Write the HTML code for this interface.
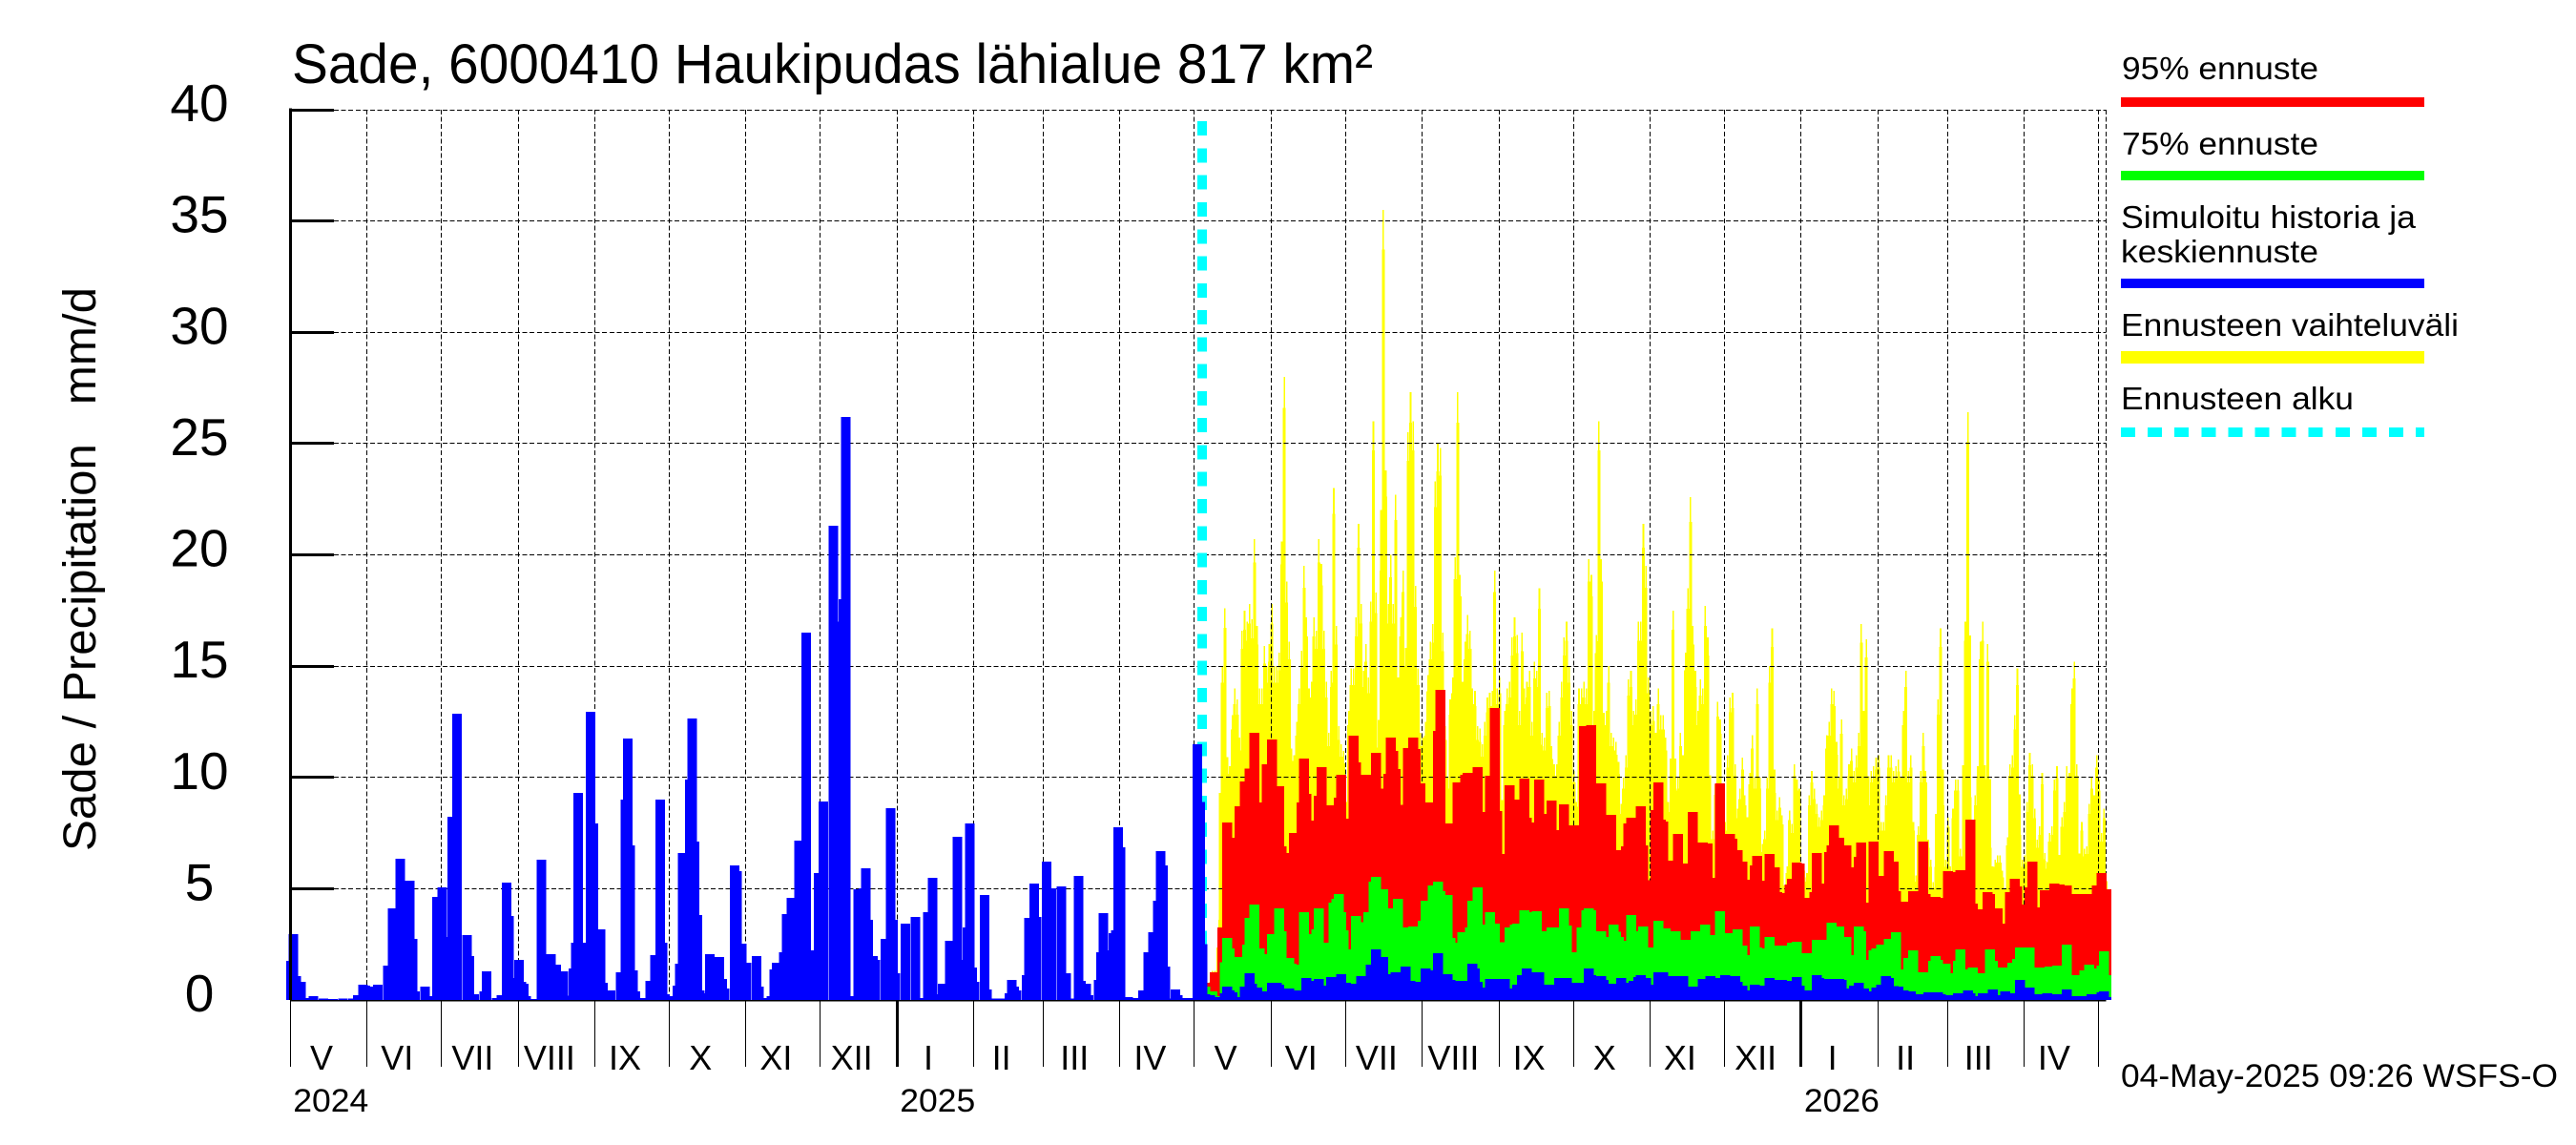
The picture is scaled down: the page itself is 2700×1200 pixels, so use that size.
<!DOCTYPE html>
<html lang="fi">
<head>
<meta charset="utf-8">
<title>Sade, 6000410 Haukipudas lähialue 817 km²</title>
<style>
html,body{margin:0;padding:0;background:#fff;}
svg{display:block;font-family:"Liberation Sans",sans-serif;}
text{fill:#000;white-space:pre;}
</style>
</head>
<body>
<svg id="chart" xmlns="http://www.w3.org/2000/svg" width="2700" height="1200" viewBox="0 0 2700 1200">
  <rect x="0" y="0" width="2700" height="1200" fill="#fff"/>
  <g id="yellow-layer" shape-rendering="crispEdges"></g>
  <g id="grid-layer" shape-rendering="crispEdges"></g>
  <g id="start-layer" shape-rendering="crispEdges"></g>
  <g id="red-layer" shape-rendering="crispEdges"></g>
  <g id="green-layer" shape-rendering="crispEdges"></g>
  <g id="blue-layer" shape-rendering="crispEdges"></g>
  <g id="axis-layer" shape-rendering="crispEdges"></g>
  <g id="label-layer"></g>

  <text x="306" y="87" font-size="58" textLength="1133" lengthAdjust="spacingAndGlyphs">Sade, 6000410 Haukipudas lähialue 817 km²</text>
  <text transform="translate(100,892) rotate(-90)" x="0" y="0" font-size="48" textLength="591" lengthAdjust="spacingAndGlyphs">Sade / Precipitation   mm/d</text>

  <g>
    <text x="2224" y="83" font-size="33" textLength="206" lengthAdjust="spacingAndGlyphs">95% ennuste</text>
    <rect x="2223" y="102" width="318" height="10" fill="#ff0000"/>
    <text x="2224" y="162" font-size="33" textLength="206" lengthAdjust="spacingAndGlyphs">75% ennuste</text>
    <rect x="2223" y="179" width="318" height="10" fill="#00ff00"/>
    <text x="2223" y="239" font-size="33" textLength="309" lengthAdjust="spacingAndGlyphs">Simuloitu historia ja</text>
    <text x="2223" y="275" font-size="33" textLength="207" lengthAdjust="spacingAndGlyphs">keskiennuste</text>
    <rect x="2223" y="292" width="318" height="10" fill="#0000ff"/>
    <text x="2223" y="352" font-size="33" textLength="354" lengthAdjust="spacingAndGlyphs">Ennusteen vaihteluväli</text>
    <rect x="2223" y="368" width="318" height="13" fill="#ffff00"/>
    <text x="2223" y="429" font-size="33" textLength="244" lengthAdjust="spacingAndGlyphs">Ennusteen alku</text>
    <line x1="2223" y1="453" x2="2541" y2="453" stroke="#00ffff" stroke-width="10" stroke-dasharray="15 13.1" shape-rendering="crispEdges"/>
  </g>

  <text x="2223" y="1139" font-size="34" textLength="458" lengthAdjust="spacingAndGlyphs">04-May-2025 09:26 WSFS-O</text>
</svg>

<script>
// Y axis
const yTicks = [5, 10, 15, 20, 25, 30, 35, 40];
const yTickLabels = [0, 5, 10, 15, 20, 25, 30, 35, 40];

// X axis: days since 1 May 2024
const monthStarts = [0,31,61,92,123,153,184,214,245,276,304,335,365,396,426,457,488,518,549,579,610,641,669,700,730];
const monthLabels = ["V","VI","VII","VIII","IX","X","XI","XII","I","II","III","IV","V","VI","VII","VIII","IX","X","XI","XII","I","II","III","IV"];
const yearStarts = [245, 610];
const yearLabels = ["2024", "2025", "2026"];
const yearLabelDays = [0, 245, 610];
const forecastStartDay = 368;

// Simulated history (mm/d)
const historyDays = [0,1,2,4,6,9,13,17,21,25,27,29,30,33,34,35,39,41,44,46,48,49,50,54,55,59,61,63,65,67,71,72,74,78,79,83,85,87,88,89,92,93,94,95,98,101,103,105,107,110,112,114,115,116,117,121,122,125,126,129,133,135,136,137,138,139,142,145,147,149,150,151,153,156,157,158,161,162,163,164,165,166,169,173,174,175,179,180,182,184,188,189,191,194,195,196,199,200,202,205,208,210,213,215,219,222,223,224,227,229,231,232,233,235,236,240,242,243,244,248,252,254,257,259,260,263,266,269,271,273,274,275,276,280,281,284,287,290,291,292,293,297,298,300,301,305,307,311,313,315,318,319,321,322,326,327,328,330,332,333,334,335,338,341,344,346,348,350,351,352,353,355,357,358,361,363,366,367,368];
const historyValues = [1.76,2.96,1.07,.81,.09,.17,.06,.05,.06,.07,.21,.69,.64,.6,.51,.69,1.54,4.11,6.34,1.97,5.36,2.74,.39,.6,.17,4.63,5.06,2.83,8.23,12.86,2.91,1.97,.26,.39,1.29,.09,.21,5.27,3.77,.99,1.8,.81,.73,.17,.05,6.3,.86,2.06,1.59,1.29,.2,1.41,2.57,9.3,2.57,12.94,7.93,3.17,.77,.43,1.24,9,11.74,6.94,1.33,.39,.09,.86,2.01,9,2.57,.26,.17,.64,1.63,6.6,9.9,12.64,7.11,3.81,.43,.3,2.06,1.93,.94,.51,6.04,5.79,2.53,1.67,1.97,.6,.09,.17,1.37,1.67,2.14,3.86,4.59,7.16,16.5,2.23,5.7,8.91,21.3,17,18,26.2,.17,4.97,5.01,5.91,3.6,1.97,1.8,2.74,8.61,3.6,1.2,3.43,3.73,.09,3.94,5.49,.26,.73,2.66,7.33,1.8,3.26,7.93,1.46,.81,4.71,.47,.06,.06,.3,.9,.6,.43,1.11,3.69,5.23,3.73,6.21,5.01,5.1,1.2,.06,5.57,.86,.73,.21,.9,2.14,3.9,2.23,3,3.13,7.76,6.86,.13,.09,.43,2.14,3.04,4.46,6.69,6.04,1.5,.06,.47,.21,.09,.08,11.49,8.9,2.5];

// Median forecast (mm/d)
const medianDays = [369,371,373,374,377,378,379,380,381,385,387,388,390,392,396,398,399,403,406,410,411,415,416,420,421,424,426,429,432,433,436,438,441,442,443,446,447,450,452,453,455,458,459,463,467,468,473,477,478,479,480,484,486,490,491,495,497,499,504,505,508,512,515,519,524,525,529,530,533,537,538,542,544,545,547,549,552,554,558,562,566,570,573,575,579,583,584,586,587,591,593,597,602,604,608,609,611,612,616,617,618,621,625,626,627,631,633,635,636,640,642,644,645,647,649,651,654,657,661,665,666,669,673,677,678,682,683,687,688,692,693,694,698,702,705,709,713,717,723,727,731,732,733,470,501,521,600,720];
const medianValues = [.26,.21,.13,.09,.3,.6,.43,.34,.13,.6,1.2,.73,.56,.39,.77,.77,.69,.51,.43,.99,.86,.94,.64,1.03,.86,1.16,.77,.73,1.07,1.07,1.59,2.27,1.93,1.16,1.07,1.24,1.24,1.5,.86,.64,.81,1.41,1.33,2.1,1.16,.9,.86,1.63,1.41,.81,.56,.94,.94,.94,.51,.69,1.11,1.41,1.24,.51,.69,.99,.99,.77,1.41,1.11,1.07,.9,.73,.99,.77,.86,1.03,1.11,.99,.69,1.24,1.24,1.07,1.07,.6,.94,1.07,.99,1.11,1.07,.81,.64,.43,.69,.64,.99,.9,.86,1.03,.64,.39,.43,1.11,.99,.9,.94,.94,.9,.51,.64,.77,.51,.39,.56,.69,1.07,.99,.63,.6,.43,.39,.26,.34,.34,.26,.21,.3,.43,.3,.17,.3,.47,.21,.39,.21,.3,.9,.56,.26,.3,.26,.47,.17,.26,.34,.39,.13,.86,1.24,.77,.9,.17];

// 75% forecast (mm/d)
const p75Days = [369,372,374,377,378,379,382,386,387,389,391,392,396,399,400,403,404,405,409,410,414,415,416,417,421,422,423,424,425,427,430,431,435,437,438,441,443,447,449,451,453,457,458,461,463,464,467,468,469,473,476,477,479,480,484,486,488,492,494,495,498,499,503,504,505,509,512,514,515,517,521,523,524,525,529,530,534,535,536,538,541,542,546,548,552,555,559,563,567,571,573,577,579,580,584,586,587,591,592,593,597,602,606,608,612,613,616,618,622,625,628,629,633,634,635,639,640,642,645,648,649,653,655,657,659,663,664,665,668,669,673,674,675,679,682,686,687,691,695,697,698,700,702,703,705,708,710,713,717,719,720,724,726,727,731,732,733,600];
const p75Values = [.6,.39,.17,1.7,2.79,2.31,1.93,2.49,3.69,4.29,2.31,2.06,2.96,4.11,3.09,1.89,1.63,1.59,3.94,2.96,3.17,4.11,2.53,2.57,4.37,4.54,4.76,3.94,3.13,2.27,3.77,3.49,3.94,5.31,5.53,4.97,4.11,4.54,3.1,3.26,3.3,3.56,4.46,5.14,5.31,4.89,4.71,2.79,2.57,3.04,3.26,4.46,5.06,3.39,3.94,3.43,2.59,3.26,3.39,3.43,4.03,3.94,3.99,2.83,3.09,3.26,3.26,4.11,3.34,2.14,3.26,4.03,4.11,4.03,3.09,2.83,3.39,3.06,2.83,2.66,3.81,3.09,3.3,2.36,3.56,3.21,3.09,2.7,3.09,3.39,2.91,3.99,2.83,3,3.17,2.44,2.01,3.3,2.36,2.31,2.83,2.44,2.57,2.61,2.1,1.2,2.7,2.7,3.47,3.3,2.83,2.01,3.3,3.09,1.8,2.23,2.31,2.49,2.74,3.04,1.37,1.89,2.23,1.2,1.24,1.76,1.97,1.8,1.63,1.2,1.76,2.27,1.37,1.46,1.2,2.27,1.76,1.46,1.67,1.84,2.36,2.36,2.36,1.11,1.46,1.46,1.5,1.54,2.49,.99,1.11,1.33,1.59,1.41,1.54,2.19,1.11,2.44];

// 95% forecast (mm/d)
const p95Days = [372,373,376,378,379,383,385,387,389,390,394,396,399,400,401,405,408,409,410,411,415,416,419,423,424,425,429,430,434,438,439,443,444,445,446,449,451,453,454,456,459,463,464,465,467,471,474,475,479,480,484,486,487,488,492,494,498,499,500,504,505,509,510,513,514,518,519,522,525,529,533,534,537,539,540,541,545,546,547,551,552,553,554,555,556,560,562,566,570,572,573,577,581,582,584,586,587,591,592,593,597,599,600,601,605,606,608,609,611,615,616,617,621,622,623,625,628,629,633,634,635,639,641,645,647,648,651,655,659,660,664,665,669,670,674,675,678,679,681,685,686,689,690,694,696,697,698,702,703,704,708,712,714,717,721,725,729,731,733];
const p95Values = [.77,1.24,3.26,7.97,7.29,8.7,9.81,10.4,12,8.87,10.6,11.7,9.6,6.9,6.6,7.5,8.87,10.84,9.26,8.06,9.17,10.46,8.74,9.09,10.11,8.14,11.87,10.67,10.11,11.1,9.5,10.16,11.79,11.19,10.37,8.77,11.31,11.79,11.27,9.73,8.87,12.09,13.93,7.8,7.93,9.77,10.11,10.2,10.46,8.44,10.07,13.11,8.49,6.56,9.64,9,9.94,8.19,7.97,9.9,8.36,8.96,6.2,7.63,8.79,7.84,6.17,12.3,12.34,9.73,8.31,6.3,6.73,6.9,7.93,8.19,8.7,6.94,5.37,8.53,9.77,8.1,8.01,6.13,6.26,7.46,6.13,8.44,7.07,7.03,5.49,9.73,7.46,7.24,6.73,6.21,5.4,6.04,6.47,5.36,6.56,5.96,4.84,4.8,5.19,5.44,6.17,6.13,4.59,4.84,6.6,5.23,6.64,6.94,7.84,7.29,6.94,5.96,6.43,7.07,4.37,7.11,5.57,6.69,6.21,4.89,4.41,4.89,7.11,4.76,4.63,4.59,5.79,5.74,5.83,5.61,8.1,4.33,4.07,4.84,4.76,4.11,3.43,4.84,5.44,5.1,4.29,5.06,6.21,4.16,4.93,5.23,5.19,5.14,4.76,4.76,5.14,5.7,4.97];

// Forecast range maximum, one value per day from rangeStartDay (mm/d)
const rangeStartDay = 372;
const rangeValues = [
1.3,1.3,1.4,3.8,15,17.6,10.7,10.5,12.8,14,13.5,11.8,16.6,17.5,17,17.8,17.1,20.7,16.8,14,14,15.9,15,16,17.8,15,15,15.6,
20.6,28,18.8,16.1,11.3,11,12.5,14,15.7,19.5,17.2,14,14.3,17.2,16.6,20.7,19.6,16.6,14.3,12,14.8,23,16.8,12.3,11.5,11.2,8.9,13,14.9,14.9,
17.2,21.4,17.8,14.8,16,14.5,17.9,26,18.3,11.5,20.3,35.5,23.8,17.8,20,17.8,22.7,14.5,17.2,19.3,15.8,25.5,27.3,26,18.6,14.9,12,11.8,12.5,14.6,
16.1,16.9,23.3,25,24.8,16.5,12.3,10,13.5,14.5,19.9,27.3,19.1,14.3,16.1,17.3,16.6,14,13.9,12.3,12.2,11.5,12.5,13.6,13.8,13.9,19.3,14,14.5,6.5,
13,14,14.3,16.3,17.2,16.4,13,16.5,14,14.3,14.8,12.5,15.2,14.8,18.5,12,11.8,13.8,13.9,11.4,10.6,10.6,12.5,14.3,16.3,17,15,13,10.3,8.9,
14,14,14.3,14,19.8,19.1,13,16.4,26,19.8,12.9,13,15,12,11.8,11.6,10.7,8.8,10,11,14.4,14.8,13,13.5,17,17,21.4,19.5,14.5,13,
13.2,12,14,12.8,12.8,11.8,8.9,8,17.5,9.9,10,12,11,15.6,18.5,22.6,16.8,14.8,13,14.4,14,17.7,16.3,7.5,7.6,9.7,13.4,12.6,8,8,
11,13.6,13.8,10.6,8.6,9.5,10.9,9.2,8.2,10.2,11.9,10,14,10,7,7.6,10,15,16.7,9.8,8.5,9.1,8.3,5,6,8.5,7.9,10.6,9.9,9.5,
5.8,5.8,5.6,9.2,10.3,9.5,8.8,8.2,8.5,9.2,11.9,12.5,14,13.9,11.6,10,12.6,9.2,9.5,10.6,11.3,10.3,11,12,16.9,13,16.2,9.2,10.3,10.5,
10.9,11,8,8,9.2,11,11,10.3,10.5,10.8,10,13,14.8,10.3,11,8,5.6,7.8,10.3,12,10.3,7.2,6.3,5.3,6.3,13.5,16.7,9.2,6.3,8.2,
6,8.6,9.9,9.9,6.8,6.6,17,26.4,9.6,8,9.2,10.5,16.1,17,9.2,16,7.2,6,6.3,6.5,6.5,5.8,5,7.3,10.6,11,12.8,14.9,7.8,6.3,
6.5,8.9,11.1,10.6,8.6,7.2,7.8,10.2,6.6,6.2,7.5,7.8,9.9,10.5,5.8,8.2,8.9,10.5,10.2,14,15.2,10.6,6,8,6.8,6.9,8.8,10,9.2,11,9.9,7.5,8.6
];

const SVG_NS = "http://www.w3.org/2000/svg";
const PLOT_LEFT = 304.3, PLOT_RIGHT = 2207.5, PLOT_TOP = 115, PLOT_BOTTOM = 1048;
const PX_PER_DAY = 2.596, PX_PER_MM = 23.325;
const HISTORY_BAR_WIDTH = 10, FORECAST_BAR_WIDTH = 10.5;

function xAxisPos(day) { return PLOT_LEFT + PX_PER_DAY * day; }
function xBarCenter(day) { return xAxisPos(day + 0.3); }
function yAxisPos(value) { return PLOT_BOTTOM - PX_PER_MM * value; }
function pixelLine(pos) { return Math.floor(pos) + 0.5; }

function drawBar(layer, day, value, width, color, name) {
  const el = document.createElementNS(SVG_NS, "rect");
  
  
  el.setAttribute("x", (xBarCenter(day) - width / 2).toFixed(2));
  el.setAttribute("y", yAxisPos(value).toFixed(2));
  el.setAttribute("width", width);
  el.setAttribute("height", (PLOT_BOTTOM - yAxisPos(value)).toFixed(2));
  el.setAttribute("fill", color);
  layer.appendChild(el);
}

function drawLine(layer, x1, y1, x2, y2, strokeWidth, dash, name) {
  const el = document.createElementNS(SVG_NS, "line");
  
  
  el.setAttribute("x1", x1);
  el.setAttribute("y1", y1);
  el.setAttribute("x2", x2);
  el.setAttribute("y2", y2);
  el.setAttribute("stroke", "#000");
  el.setAttribute("stroke-width", strokeWidth);
  if (dash) el.setAttribute("stroke-dasharray", dash);
  layer.appendChild(el);
}

function drawText(layer, x, y, size, anchor, content, name, fitWidth) {
  const el = document.createElementNS(SVG_NS, "text");
  
  
  el.setAttribute("x", x);
  el.setAttribute("y", y);
  el.setAttribute("font-size", size);
  el.setAttribute("text-anchor", anchor);
  if (fitWidth) {
    el.setAttribute("textLength", fitWidth);
    el.setAttribute("lengthAdjust", "spacingAndGlyphs");
  }
  el.textContent = content;
  layer.appendChild(el);
}

const yellowLayer = document.getElementById("yellow-layer");
const gridLayer = document.getElementById("grid-layer");
const startLayer = document.getElementById("start-layer");
const redLayer = document.getElementById("red-layer");
const greenLayer = document.getElementById("green-layer");
const blueLayer = document.getElementById("blue-layer");
const axisLayer = document.getElementById("axis-layer");
const labelLayer = document.getElementById("label-layer");

// Each range value is a stepped spike: a narrow tip over progressively wider bases.
rangeValues.forEach(function (value, i) {
  drawBar(yellowLayer, rangeStartDay + i, value * 0.62, 7, "#ffff00", "range-bar-base");
  drawBar(yellowLayer, rangeStartDay + i, value * 0.95, 3, "#ffff00", "range-bar-body");
  drawBar(yellowLayer, rangeStartDay + i, value, 1.6, "#ffff00", "range-bar-tip");
});

yTicks.forEach(function (tick) {
  drawLine(gridLayer, 350, pixelLine(yAxisPos(tick)), PLOT_RIGHT, pixelLine(yAxisPos(tick)), 1, "5 2.6", "horizontal-grid-line");
});
monthStarts.slice(1).forEach(function (day) {
  drawLine(gridLayer, pixelLine(xAxisPos(day)), PLOT_TOP, pixelLine(xAxisPos(day)), PLOT_BOTTOM, 1, "5 2.6", "vertical-grid-line");
});
drawLine(gridLayer, PLOT_RIGHT, PLOT_TOP, PLOT_RIGHT, PLOT_BOTTOM, 1, "5 2.6", "right-border-line");

const startLine = document.createElementNS(SVG_NS, "line");


startLine.setAttribute("x1", xAxisPos(forecastStartDay) + 0.3);
startLine.setAttribute("x2", xAxisPos(forecastStartDay) + 0.3);
startLine.setAttribute("y1", 127.2);
startLine.setAttribute("y2", PLOT_BOTTOM);
startLine.setAttribute("stroke", "#00ffff");
startLine.setAttribute("stroke-width", 10);
startLine.setAttribute("stroke-dasharray", "15 13.27");
startLayer.appendChild(startLine);

p95Days.forEach(function (day, i) {
  drawBar(redLayer, day, p95Values[i], FORECAST_BAR_WIDTH, "#ff0000", "forecast-95-bar");
});
p75Days.forEach(function (day, i) {
  drawBar(greenLayer, day, p75Values[i], FORECAST_BAR_WIDTH, "#00ff00", "forecast-75-bar");
});
historyDays.forEach(function (day, i) {
  drawBar(blueLayer, day, historyValues[i], HISTORY_BAR_WIDTH, "#0000ff", "history-bar");
});
medianDays.forEach(function (day, i) {
  drawBar(blueLayer, day, medianValues[i], FORECAST_BAR_WIDTH, "#0000ff", "median-forecast-bar");
});

drawLine(axisLayer, 304.5, PLOT_TOP - 1.5, 304.5, PLOT_BOTTOM, 3, null, "y-axis-line");
drawLine(axisLayer, 304, PLOT_BOTTOM + 0.5, PLOT_RIGHT, PLOT_BOTTOM + 0.5, 1.5, null, "x-axis-line");
yTicks.forEach(function (tick) {
  drawLine(axisLayer, 304, pixelLine(yAxisPos(tick)), 350, pixelLine(yAxisPos(tick)), 3, null, "y-axis-tick");
});
monthStarts.forEach(function (day) {
  drawLine(axisLayer, pixelLine(xAxisPos(day)), PLOT_BOTTOM, pixelLine(xAxisPos(day)), 1118, 1, null, "x-axis-month-tick");
});
yearStarts.forEach(function (day) {
  drawLine(axisLayer, pixelLine(xAxisPos(day)), PLOT_BOTTOM, pixelLine(xAxisPos(day)), 1118, 3, null, "x-axis-year-tick");
});

yTickLabels.forEach(function (tick) {
  drawText(labelLayer, 209, yAxisPos(tick) + 12, 55, "middle", String(tick), "y-axis-tick-label");
});
monthLabels.forEach(function (label, i) {
  const center = (xAxisPos(monthStarts[i]) + xAxisPos(monthStarts[i + 1])) / 2 - 7.5;
  drawText(labelLayer, center, 1121, 36, "middle", label, "x-axis-month-label");
});
yearLabels.forEach(function (label, i) {
  drawText(labelLayer, xAxisPos(yearLabelDays[i]) + 3, 1165, 34, "start", label, "x-axis-year-label", 79);
});
</script>
</body>
</html>
